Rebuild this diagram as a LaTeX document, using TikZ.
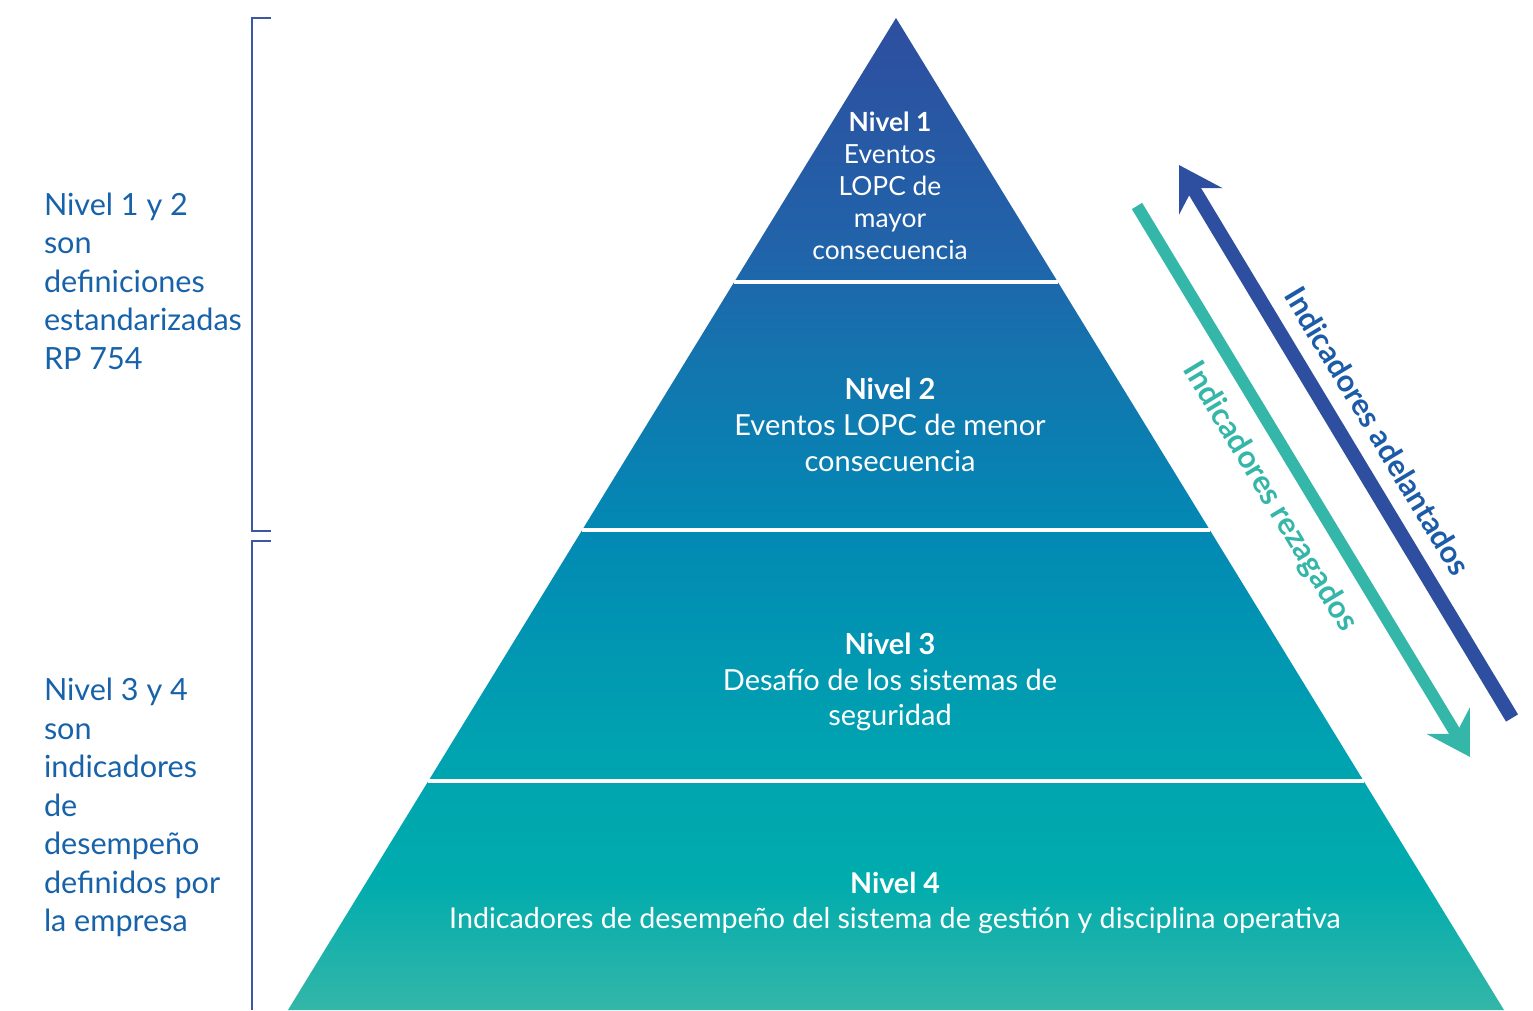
\documentclass[tikz,border=0pt]{standalone}
\usepackage{fontspec}
\setmainfont{Lato}
\usetikzlibrary{arrows.meta}

\definecolor{pyrA}{HTML}{34B6A8}
\definecolor{pyrB}{HTML}{00ACAD}
\definecolor{pyrC}{HTML}{00A3B0}
\definecolor{pyrD}{HTML}{0289B4}
\definecolor{pyrE}{HTML}{1474AE}
\definecolor{pyrF}{HTML}{2064AA}
\definecolor{pyrG}{HTML}{2E4E9F}
\pgfdeclareverticalshading{pyrshade}{100bp}{color(0bp)=(pyrA); color(25bp)=(pyrA);
  color(31.5bp)=(pyrB); color(38bp)=(pyrC); color(49bp)=(pyrD); color(58bp)=(pyrE);
  color(63bp)=(pyrF); color(75bp)=(pyrG); color(100bp)=(pyrG)}

\begin{document}
\begin{tikzpicture}[every node/.style={inner sep=0pt, outer sep=0pt},
    level/.style={text=white, align=center, font=\fontsize{8.25}{10.2}\selectfont},
    side/.style={text=sideblue, align=left, anchor=west, font=\fontsize{8.7}{10.95}\selectfont},
    bracket/.style={draw=brackblue, line width=0.6pt},
    sep/.style={draw=white, line width=0.9pt}]
    \definecolor{sideblue}{HTML}{1862AA}
    \definecolor{brackblue}{HTML}{3D57A2}
    \definecolor{adel}{HTML}{2E4F9F}
    \definecolor{adeltext}{HTML}{1B5BA7}
    \definecolor{reza}{HTML}{34B6A8}
    \useasboundingbox (0,0) rectangle (15.33,10.10);
    % Pyramid
    \coordinate (apex) at (8.96,9.92);
    \coordinate (baseL) at (2.88,0);
    \coordinate (baseR) at (15.04,0);
    \shade[shading=pyrshade] (baseL) -- (apex) -- (baseR) -- cycle;
    % separators
    \draw[sep] (7.342,7.28) -- (10.578,7.28);
    \draw[sep] (5.822,4.80) -- (12.098,4.80);
    \draw[sep] (4.284,2.29) -- (13.636,2.29);
    % levels
    \node[level, font=\fontsize{7.5}{9.1}\selectfont] (niv1) at (8.90,8.24)
        {\textbf{Nivel 1}\\Eventos\\LOPC de\\mayor\\consecuencia};
    \node[level] (niv2) at (8.90,5.85)
        {\textbf{Nivel 2}\\Eventos LOPC de menor\\consecuencia};
    \node[level] (niv3) at (8.90,3.28)
        {\textbf{Nivel 3}\\Desafío de los sistemas de\\seguridad};
    \node[level, font=\fontsize{8.15}{10.2}\selectfont] (niv4) at (8.95,1.07)
        {\textbf{Nivel 4}\\Indicadores de desempeño del sistema de gestión y disciplina operativa};
    % Brackets
    \draw[bracket] (2.71,9.92) -- (2.52,9.92) -- (2.52,4.79) -- (2.71,4.79);
    \draw[bracket] (2.71,4.69) -- (2.52,4.69) -- (2.52,0);
    % Side captions
    \node[side] (grp12) at (0.44,7.29)
        {Nivel 1 y 2\\son\\definiciones\\estandarizadas\\RP 754};
    \node[side] (grp34) at (0.44,2.025)
        {Nivel 3 y 4\\son\\indicadores\\de\\desempeño\\definidos por\\la empresa};
    % Arrows
    \coordinate (adelS) at (15.12,2.92);
    \coordinate (adelE) at (11.79,8.45);
    \coordinate (rezaS) at (11.37,8.04);
    \coordinate (rezaE) at (14.70,2.53);
    \draw[adel, line width=0.14cm, -{Stealth[length=0.42cm, width=0.5cm, inset=0.15cm]}] (adelS) -- (adelE);
    \draw[reza, line width=0.12cm, -{Stealth[length=0.42cm, width=0.5cm, inset=0.15cm]}] (rezaS) -- (rezaE);
    \node[rotate=-58.94, text=adeltext, font=\fontsize{8.7}{10}\selectfont\bfseries] (adelLbl) at (13.78,5.79) {Indicadores adelantados};
    \node[rotate=-58.94, text=reza, font=\fontsize{8.9}{10}\selectfont\bfseries] (rezaLbl) at (12.70,5.13) {Indicadores rezagados};
\end{tikzpicture}
\end{document}
